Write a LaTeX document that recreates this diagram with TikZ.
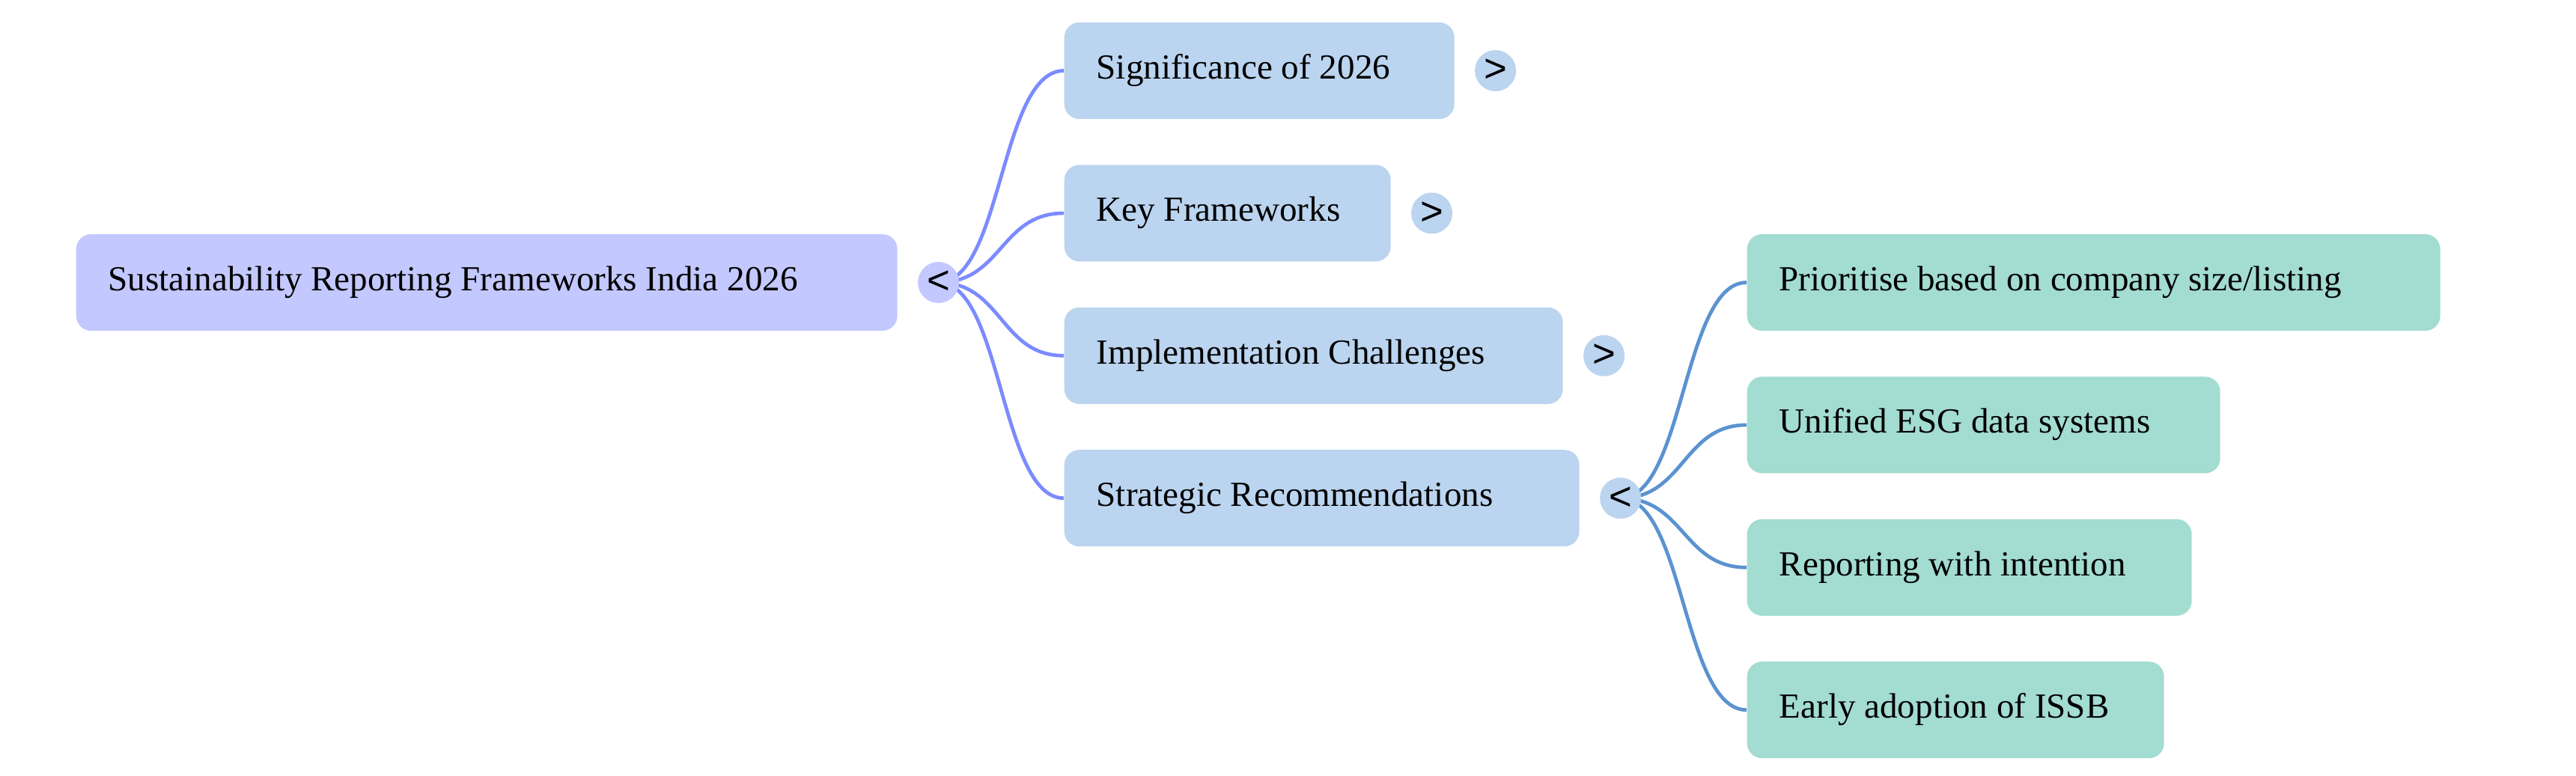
\documentclass[tikz,border=0pt]{standalone}
\usepackage{fontspec}
\usepackage{tikz}
\setmainfont{Liberation Serif}
\newfontfamily\knobfont{Liberation Sans}
\usetikzlibrary{positioning}
\usetikzlibrary{backgrounds}
\definecolor{rootfill}{RGB}{195,200,254}
\definecolor{midfill}{RGB}{187,212,239}
\definecolor{leaffill}{RGB}{163,220,209}
\definecolor{rootlink}{RGB}{123,139,255}
\definecolor{midlink}{RGB}{91,146,208}

\begin{document}
\begin{tikzpicture}[
    box/.style={anchor=west, rounded corners=0.2cm, minimum height=1.29cm,
      inner xsep=0.43cm, inner ysep=0pt, align=flush left, text height=0.32cm,
      text depth=0.1cm, font=\fontsize{13.4}{16}\selectfont},
    knob/.style={circle, inner sep=0pt, minimum size=0.55cm,
      font=\knobfont\fontsize{15}{18}\selectfont},
    link/.style={line width=1.35pt}
  ]
    \useasboundingbox (0,0) rectangle (34.41,-10.37);

    \node[box, fill=rootfill, text width=10.11cm] (root) at (1.01,-3.775) {Sustainability Reporting Frameworks India 2026};

    \node[box, fill=midfill, text width=4.35cm] (s1) at (14.21,-0.945) {Significance of 2026};
    \node[box, fill=midfill, text width=3.5cm, below right=0.6cm and 0cm of s1.south west] (s2) {Key Frameworks};
    \node[box, fill=midfill, text width=5.8cm, below right=0.6cm and 0cm of s2.south west] (s3) {Implementation Challenges};
    \node[box, fill=midfill, text width=6.02cm, below right=0.6cm and 0cm of s3.south west] (s4) {Strategic Recommendations};

    \node[box, fill=leaffill, text width=8.4cm] (r1) at (23.33,-3.775) {Prioritise based on company size/listing};
    \node[box, fill=leaffill, text width=5.46cm, below right=0.6cm and 0cm of r1.south west] (r2) {Unified ESG data systems};
    \node[box, fill=leaffill, text width=5.08cm, below right=0.6cm and 0cm of r2.south west] (r3) {Reporting with intention};
    \node[box, fill=leaffill, text width=4.71cm, below right=0.6cm and 0cm of r3.south west] (r4) {Early adoption of ISSB};

    \node[knob, fill=rootfill, right=0.26cm of root] (t0) {<};
    \node[knob, fill=midfill, right=0.26cm of s1] (t1) {>};
    \node[knob, fill=midfill, right=0.26cm of s2] (t2) {>};
    \node[knob, fill=midfill, right=0.26cm of s3] (t3) {>};
    \node[knob, fill=midfill, right=0.26cm of s4] (t4) {<};

    \begin{scope}[on background layer]
      \foreach \n in {1,...,4} {
        \draw[link, rootlink] (t0.center) .. controls +(0.85,0) and +(-0.85,0) .. (s\n.west);
        \draw[link, midlink] (t4.center) .. controls +(0.85,0) and +(-0.85,0) .. (r\n.west);
      }
    \end{scope}
\end{tikzpicture}
\end{document}
